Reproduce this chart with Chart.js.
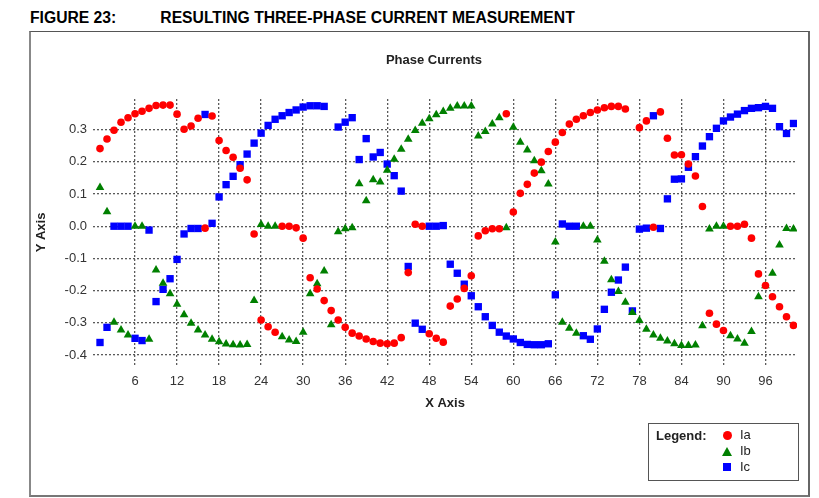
<!DOCTYPE html>
<html>
<head>
<meta charset="utf-8">
<script src="https://cdn.jsdelivr.net/npm/chart.js@4.4.1/dist/chart.umd.min.js"></script>
<style>
    body { margin: 0; background: #ffffff; width: 819px; height: 498px; position: relative; overflow: hidden; font-family: "Liberation Sans", Arial, sans-serif; color: #000; }
    #FigureTitle { position: absolute; left: 30px; top: 8px; font-size: 16px; font-weight: bold; white-space: nowrap; transform: scaleX(0.98); transform-origin: left top; line-height: 20px; }
    #FigureTitle span { position: absolute; left: 0; }
    #Frame { position: absolute; left: 29px; top: 31px; width: 781px; height: 466px; box-sizing: border-box; border: 1px solid #555; border-left: 2px solid #888; border-right: 2px solid #666; border-bottom: 2px solid #777; }
    #PhaseCurrentsChart { position: absolute; left: 0; top: 0; }
    #ChartTitle { position: absolute; left: 334px; width: 200px; top: 52px; text-align: center; font-size: 13px; font-weight: bold; color: #222; }
    #LegendBox { position: absolute; left: 648px; top: 423px; width: 151px; height: 58px; box-sizing: border-box; border: 1.5px solid #555; font-size: 13px; }
    #LegendBox .caption { position: absolute; left: 7px; top: 4px; font-weight: bold; color: #222; }
    #LegendBox .item { position: absolute; left: 91px; height: 16px; line-height: 16px; color: #222; }
    .mark { position: absolute; }
    .mark.circle { width: 9px; height: 9px; border-radius: 50%; background: #ff0000; left: 74px; top: 7px; }
    .mark.tri { width: 0; height: 0; border-left: 5px solid transparent; border-right: 5px solid transparent; border-bottom: 9px solid #008000; left: 73px; top: 23px; }
    .mark.sq { width: 8px; height: 8px; background: #0000ff; left: 74px; top: 39px; }
</style>
</head>
<body>
<div id="FigureTitle"><span style="left:0">FIGURE 23:</span><span style="left:133px">RESULTING THREE-PHASE CURRENT MEASUREMENT</span></div>
<div id="Frame"></div>
<canvas id="PhaseCurrentsChart" width="819" height="498"></canvas>
<div id="ChartTitle">Phase Currents</div>
<div id="LegendBox">
    <div class="caption">Legend:</div>
    <div class="mark circle"></div>
    <div class="mark tri"></div>
    <div class="mark sq"></div>
    <div class="item" style="top:3px">Ia</div>
    <div class="item" style="top:19px">Ib</div>
    <div class="item" style="top:35px">Ic</div>
</div>
<script>
const PhaseCurrentsChartId = 'PhaseCurrentsChart';

// sample number on the x axis
const SampleNo = [
    1, 2, 3, 4, 5, 6, 7, 8, 9, 10, 11, 12, 13, 14, 15, 16, 17, 18, 19, 20,
    21, 22, 23, 24, 25, 26, 27, 28, 29, 30, 31, 32, 33, 34, 35, 36, 37, 38, 39, 40,
    41, 42, 43, 44, 45, 46, 47, 48, 49, 50, 51, 52, 53, 54, 55, 56, 57, 58, 59, 60,
    61, 62, 63, 64, 65, 66, 67, 68, 69, 70, 71, 72, 73, 74, 75, 76, 77, 78, 79, 80,
    81, 82, 83, 84, 85, 86, 87, 88, 89, 90, 91, 92, 93, 94, 95, 96, 97, 98, 99, 100
];

const Ia = [
    0.241, 0.271, 0.298, 0.323, 0.337, 0.349, 0.357, 0.366, 0.375, 0.376,
    0.376, 0.348, 0.301, 0.311, 0.335, -0.006, 0.342, 0.266, 0.235, 0.214,
    0.180, 0.144, -0.024, -0.291, -0.312, -0.329, 0.000, 0.000, -0.005, -0.037,
    -0.160, -0.195, -0.231, -0.262, -0.291, -0.314, -0.332, -0.341, -0.350, -0.358,
    -0.363, -0.365, -0.363, -0.346, -0.144, 0.006, 0.000, -0.334, -0.348, -0.360,
    -0.248, -0.226, -0.193, -0.154, -0.030, -0.014, -0.008, -0.008, 0.349, 0.044,
    0.102, 0.130, 0.165, 0.199, 0.232, 0.261, 0.291, 0.317, 0.332, 0.343,
    0.353, 0.361, 0.368, 0.372, 0.372, 0.364, null, 0.306, 0.327, -0.003,
    0.355, 0.273, 0.221, 0.222, 0.193, 0.156, 0.061, -0.270, -0.304, -0.324,
    0.000, 0.000, 0.006, -0.037, -0.148, -0.184, -0.219, -0.250, -0.281, -0.308
];

const Ib = [
    0.120, 0.045, -0.298, -0.322, -0.338, 0.000, 0.000, -0.351, -0.136, -0.177,
    -0.210, -0.242, -0.275, -0.301, -0.322, -0.338, -0.351, -0.359, -0.366, -0.368,
    -0.369, -0.367, -0.231, 0.005, 0.000, 0.000, -0.343, -0.353, -0.358, -0.329,
    -0.210, -0.179, -0.139, -0.306, -0.017, -0.008, -0.005, 0.132, 0.079, 0.144,
    0.137, 0.174, 0.208, 0.239, 0.270, 0.297, 0.320, 0.334, 0.346, 0.356,
    0.366, 0.373, 0.373, 0.373, 0.280, 0.294, 0.317, 0.337, -0.005, 0.307,
    0.261, 0.237, 0.203, 0.172, 0.131, -0.049, -0.298, -0.317, -0.332, 0.000,
    0.000, -0.043, -0.109, -0.166, -0.203, -0.236, -0.268, -0.293, -0.320, -0.338,
    -0.348, -0.356, -0.365, -0.370, -0.370, -0.369, -0.309, -0.009, 0.000, 0.000,
    -0.340, -0.350, -0.363, -0.327, -0.219, -0.185, -0.146, -0.058, -0.007, -0.009
];

const Ic = [
    -0.361, -0.314, 0.000, 0.000, 0.000, -0.348, -0.355, -0.012, -0.234, -0.196,
    -0.163, -0.103, -0.024, -0.007, -0.007, 0.347, 0.009, 0.091, 0.129, 0.155,
    0.191, 0.224, 0.258, 0.289, 0.313, 0.332, 0.343, 0.353, 0.361, 0.370,
    0.374, 0.374, 0.372, null, 0.308, 0.323, 0.337, 0.207, 0.272, 0.215,
    0.229, 0.193, 0.157, 0.109, -0.125, -0.301, -0.320, 0.000, 0.000, 0.002,
    -0.118, -0.146, -0.180, -0.216, -0.250, -0.281, -0.308, -0.329, -0.341, -0.350,
    -0.361, -0.367, -0.368, -0.368, -0.365, -0.213, 0.007, 0.000, 0.000, -0.340,
    -0.351, -0.319, -0.258, -0.205, -0.167, -0.127, -0.263, -0.009, -0.006, 0.343,
    -0.007, 0.085, 0.146, 0.147, 0.183, 0.216, 0.249, 0.278, 0.304, 0.327,
    0.339, 0.348, 0.359, 0.366, 0.368, 0.372, 0.366, 0.309, 0.288, 0.319
];

const XTicks = [6, 12, 18, 24, 30, 36, 42, 48, 54, 60, 66, 72, 78, 84, 90, 96];
const YTicks = [-0.4, -0.3, -0.2, -0.1, 0.0, 0.1, 0.2, 0.3];

function ToPoints(values)
{
    return SampleNo.map((x, i) => ({ x: x, y: values[i] }));
}

const GridStyle = { color: '#5a5a5a', lineWidth: 1.3, drawTicks: false };
const TickFont = { family: '"Liberation Sans", Arial, sans-serif', size: 13 };
const AxisTitleFont = { family: '"Liberation Sans", Arial, sans-serif', size: 13, weight: 'bold' };

new Chart(document.getElementById(PhaseCurrentsChartId),
{
    type: 'scatter',
    data:
    {
        datasets: [
            { label: 'Ia', data: ToPoints(Ia), pointStyle: 'circle', pointRadius: 3.8, backgroundColor: '#ff0000', borderColor: '#ff0000', borderWidth: 0 },
            { label: 'Ib', data: ToPoints(Ib), pointStyle: 'triangle', pointRadius: 5, backgroundColor: '#008000', borderColor: '#008000', borderWidth: 0 },
            { label: 'Ic', data: ToPoints(Ic), pointStyle: 'rect', pointRadius: 5.2, backgroundColor: '#0000ff', borderColor: '#0000ff', borderWidth: 0 }
        ]
    },
    options:
    {
        responsive: false,
        animation: false,
        events: [],
        layout: { padding: { left: 31, right: 22, top: 99, bottom: 84 } },
        plugins:
        {
            legend: { display: false },
            title: { display: false },
            tooltip: { enabled: false }
        },
        scales:
        {
            x:
            {
                type: 'linear',
                min: 0,
                max: 100.5,
                grid: GridStyle,
                border: { display: false, dash: [2, 2] },
                afterBuildTicks: (scale) => { scale.ticks = XTicks.map(v => ({ value: v })); },
                afterFit: (scale) => { scale.height = 48; },
                ticks: { font: TickFont, color: '#333', padding: 8, maxRotation: 0 },
                title: { display: true, text: 'X Axis', font: AxisTitleFont, color: '#222', padding: { top: 3, bottom: 3 } }
            },
            y:
            {
                min: -0.434,
                max: 0.395,
                grid: GridStyle,
                border: { display: false, dash: [2, 2] },
                afterBuildTicks: (scale) => { scale.ticks = YTicks.map(v => ({ value: v })); },
                afterFit: (scale) => { scale.width = 62; },
                ticks: { font: TickFont, color: '#333', padding: 6, callback: (v) => v.toFixed(1) },
                title: { display: true, text: 'Y Axis', font: AxisTitleFont, color: '#222', padding: { top: 3, bottom: 3 } }
            }
        }
    }
});
</script>
</body>
</html>
